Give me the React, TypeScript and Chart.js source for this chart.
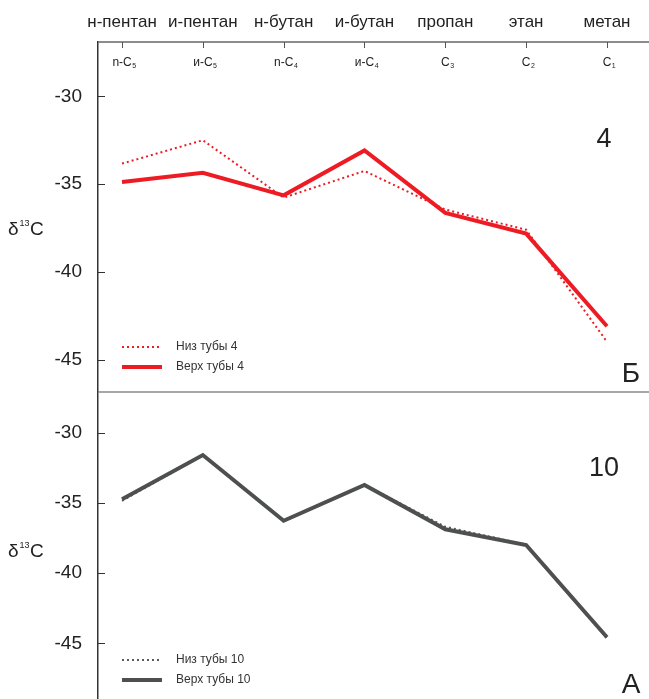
import React, { useEffect, useRef } from "react";
import { Chart, registerables } from "chart.js";

Chart.register(...registerables);

const compounds = ["н-пентан", "и-пентан", "н-бутан", "и-бутан", "пропан", "этан", "метан"];
const formulaMain = ["n-C", "и-C", "n-C", "и-C", "C", "C", "C"];
const formulaSub = ["5", "5", "4", "4", "3", "2", "1"];
const xIndex = [0, 1, 2, 3, 4, 5, 6];

const tube4Lower = [-33.83, -32.5, -35.77, -34.25, -36.45, -37.6, -43.99];
const tube4Upper = [-34.88, -34.35, -35.64, -33.08, -36.64, -37.82, -43.1];
const tube10Lower = [-34.85, -31.6, -36.27, -33.72, -36.7, -37.98, -44.65];
const tube10Upper = [-34.74, -31.59, -36.27, -33.72, -36.88, -38.0, -44.57];

const names4 = ["Низ тубы 4", "Верх тубы 4"];
const names10 = ["Низ тубы 10", "Верх тубы 10"];

const FONT = '"Liberation Sans", Arial, Helvetica, sans-serif';

type PanelOpts = {
  lower: number[];
  upper: number[];
  names: string[];
  lineColor: string;
  dotColor: string;
  yMin: number;
  yMax: number;
  padTop: number;
  tag: string;
  tagY: number;
  letter: string;
  letterDy: number;
  legendDy: number;
  header: boolean;
  topLineColor: string;
  titleY: number;
};

function makeConfig(o: PanelOpts): any {
  const pts = (arr: number[]) => xIndex.map((x, i) => ({ x, y: arr[i] }));
  const deco = {
    id: "deco",
    afterDraw(chart: any) {
      const ctx = chart.ctx as CanvasRenderingContext2D;
      const a = chart.chartArea;
      const xs = chart.scales.x;
      const ys = chart.scales.y;
      ctx.save();
      // top border / separator
      ctx.strokeStyle = o.topLineColor;
      ctx.lineWidth = 1.5;
      ctx.beginPath();
      ctx.moveTo(a.left, a.top);
      ctx.lineTo(a.right, a.top);
      ctx.stroke();
      // inward y ticks
      ctx.strokeStyle = "#333";
      ctx.lineWidth = 1;
      ys.ticks.forEach((t: any) => {
        const y = Math.round(ys.getPixelForValue(t.value)) + 0.5;
        ctx.beginPath();
        ctx.moveTo(a.left, y);
        ctx.lineTo(a.left + 7, y);
        ctx.stroke();
      });
      if (o.header) {
        ctx.fillStyle = "#222";
        xIndex.forEach((v, i) => {
          const x = xs.getPixelForValue(v);
          ctx.font = `17px ${FONT}`;
          ctx.textAlign = "center";
          ctx.textBaseline = "alphabetic";
          ctx.fillText(compounds[i], x, 27);
          ctx.strokeStyle = "#555";
          ctx.beginPath();
          ctx.moveTo(Math.round(x) + 0.5, a.top);
          ctx.lineTo(Math.round(x) + 0.5, a.top + 6);
          ctx.stroke();
          ctx.font = `12px ${FONT}`;
          const w1 = ctx.measureText(formulaMain[i]).width;
          ctx.font = `7px ${FONT}`;
          const w2 = ctx.measureText(formulaSub[i]).width;
          const sx = x + 2 - (w1 + w2) / 2;
          ctx.textAlign = "left";
          ctx.font = `12px ${FONT}`;
          ctx.fillText(formulaMain[i], sx, 66);
          ctx.font = `7px ${FONT}`;
          ctx.fillText(formulaSub[i], sx + w1 + 0.5, 68);
        });
      }
      // y title δ13C
      ctx.fillStyle = "#222";
      ctx.textAlign = "left";
      ctx.textBaseline = "alphabetic";
      const mid = o.titleY;
      ctx.font = `19px ${FONT}`;
      ctx.fillText("δ", 8, mid);
      const wd = ctx.measureText("δ").width;
      ctx.font = `9px ${FONT}`;
      ctx.fillText("13", 8 + wd + 1, mid - 9);
      const ws = ctx.measureText("13").width;
      ctx.font = `19px ${FONT}`;
      ctx.fillText("C", 8 + wd + ws + 1.5, mid);
      // tag and letter
      ctx.font = `27px ${FONT}`;
      ctx.textAlign = "center";
      ctx.fillText(o.tag, 604, o.tagY);
      ctx.font = `28px ${FONT}`;
      ctx.fillText(o.letter, 631, a.bottom + o.letterDy);
      // legend
      const metas = [chart.data.datasets[0], chart.data.datasets[1]];
      metas.forEach((ds: any, i: number) => {
        const y = a.bottom + o.legendDy + i * 20;
        ctx.save();
        ctx.strokeStyle = ds.borderColor;
        ctx.lineWidth = ds.borderWidth;
        ctx.setLineDash(ds.borderDash || []);
        ctx.beginPath();
        ctx.moveTo(122, y);
        ctx.lineTo(162, y);
        ctx.stroke();
        ctx.restore();
        ctx.fillStyle = "#333";
        ctx.font = `12px ${FONT}`;
        ctx.textAlign = "left";
        ctx.textBaseline = "middle";
        ctx.fillText(ds.label, 176, y);
      });
      ctx.restore();
    },
  };
  return {
    type: "line",
    data: {
      datasets: [
        {
          label: o.names[0],
          data: pts(o.lower),
          borderColor: o.dotColor,
          borderWidth: 2,
          borderDash: [2, 3],
          pointRadius: 0,
          fill: false,
          order: 1,
        },
        {
          label: o.names[1],
          data: pts(o.upper),
          borderColor: o.lineColor,
          borderWidth: 4,
          pointRadius: 0,
          fill: false,
          order: 0,
        },
      ],
    },
    options: {
      animation: false,
      responsive: false,
      maintainAspectRatio: false,
      layout: { padding: { top: o.padTop, left: 0, right: 0, bottom: 0 } },
      plugins: { legend: { display: false }, tooltip: { enabled: false } },
      scales: {
        x: { type: "linear", display: false, min: -0.297, max: 6.52 },
        y: {
          type: "linear",
          min: o.yMin,
          max: o.yMax,
          grid: { display: false, drawTicks: false },
          border: { display: true, color: "#333", width: 1.5 },
          ticks: {
            stepSize: 5,
            includeBounds: false,
            padding: 16,
            color: "#222",
            font: { size: 19, family: FONT },
          },
          afterFit: (s: any) => {
            s.width = 98;
            s.paddingTop = 0;
            s.paddingBottom = 0;
          },
        },
      },
    },
    plugins: [deco],
  };
}

function Panel(props: { opts: PanelOpts; top: number; height: number }) {
  const ref = useRef<HTMLCanvasElement>(null);
  useEffect(() => {
    if (!ref.current) return;
    const chart = new Chart(ref.current, makeConfig(props.opts));
    return () => chart.destroy();
  }, []);
  return (
    <canvas
      ref={ref}
      width={649}
      height={props.height}
      style={{ position: "absolute", left: 0, top: props.top, width: 649, height: props.height }}
    />
  );
}

export default function App() {
  const topPanel: PanelOpts = {
    lower: tube4Lower,
    upper: tube4Upper,
    names: names4,
    lineColor: "#ED1C24",
    dotColor: "#ED1C24",
    yMin: -46.85,
    yMax: -26.9,
    padTop: 42,
    tag: "4",
    tagY: 147,
    letter: "Б",
    letterDy: -10,
    legendDy: -45,
    header: true,
    topLineColor: "#666",
    titleY: 235,
  };
  const bottomPanel: PanelOpts = {
    lower: tube10Lower,
    upper: tube10Upper,
    names: names10,
    lineColor: "#4D4F50",
    dotColor: "#5A5B5D",
    yMin: -48.97,
    yMax: -27.1,
    padTop: 7,
    tag: "10",
    tagY: 476 - 385,
    letter: "А",
    letterDy: -6,
    legendDy: -39,
    header: false,
    topLineColor: "#8A8A8A",
    titleY: 557 - 385,
  };
  return (
    <div
      style={{
        position: "absolute",
        left: 0,
        top: 0,
        width: 649,
        height: 699,
        overflow: "hidden",
        background: "#fff",
      }}
    >
      <Panel opts={topPanel} top={0} height={392} />
      <Panel opts={bottomPanel} top={385} height={314} />
    </div>
  );
}
